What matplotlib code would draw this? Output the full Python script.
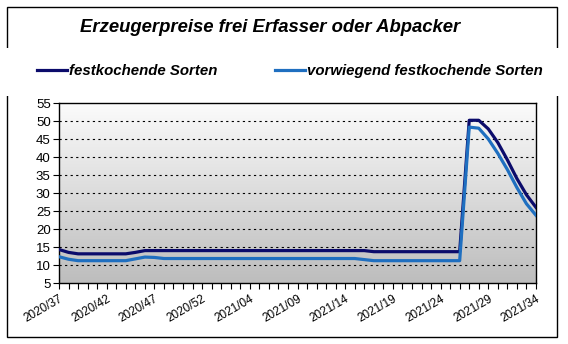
import numpy as np
import matplotlib
matplotlib.use("Agg")
import matplotlib.pyplot as plt
from matplotlib.patches import Rectangle

plt.rcParams['font.family'] = ['Liberation Sans', 'DejaVu Sans']

# Kalenderwochen 2020/37 .. 2021/34 (2020 hat 53 Wochen)
weeks = [f"2020/{w}" for w in range(37, 54)] + [f"2021/{w:02d}" for w in range(1, 35)]

festkochend = [14.3, 13.5, 13.1, 13.1, 13.1, 13.1, 13.1, 13.1, 13.5, 14.0,
               14.0, 14.0, 14.0, 14.0, 14.0, 14.0, 14.0, 14.0, 14.0, 14.0,
               14.0, 14.0, 14.0, 14.0, 14.0, 14.0, 14.0, 14.0, 14.0, 14.0,
               14.0, 14.0, 14.0, 13.7, 13.7, 13.7, 13.7, 13.7, 13.7, 13.7,
               13.7, 13.7, 13.7, 50.2, 50.2, 47.8, 44.0, 39.2, 34.0, 29.5,
               26.0]
vorwiegend = [12.3, 11.6, 11.2, 11.2, 11.2, 11.2, 11.2, 11.2, 11.7, 12.2,
              12.1, 11.8, 11.8, 11.8, 11.8, 11.8, 11.8, 11.8, 11.8, 11.8,
              11.8, 11.8, 11.8, 11.8, 11.8, 11.8, 11.8, 11.8, 11.8, 11.8,
              11.8, 11.8, 11.5, 11.2, 11.2, 11.2, 11.2, 11.2, 11.2, 11.2,
              11.2, 11.2, 11.2, 48.3, 48.0, 45.0, 41.0, 36.5, 31.5, 27.0,
              23.8]

W, H = 568, 344
fig = plt.figure(figsize=(W / 100, H / 100), dpi=100)
fig.patch.set_facecolor("white")

# aeusserer Rahmen
fig.patches.append(Rectangle((7 / W, 1 - 337 / H), 550 / W, 330 / H,
                             transform=fig.transFigure, fill=False,
                             edgecolor="black", linewidth=1.0, zorder=0))

ax = fig.add_axes([59 / W, 1 - 283 / H, 477 / W, 180 / H])

# Hintergrund mit Verlauf
grad = np.linspace(1, 0, 256).reshape(-1, 1)
ax.imshow(grad, extent=[0, 1, 0, 1], transform=ax.transAxes, aspect="auto",
          cmap=matplotlib.colors.LinearSegmentedColormap.from_list("g", ["#bdbdbd", "#fbfbfb"]),
          zorder=0)

x = np.arange(len(weeks))
l1, = ax.plot(x, festkochend, color="#0b0b6b", linewidth=2.3, zorder=3,
              label="festkochende Sorten")
l2, = ax.plot(x, vorwiegend, color="#1f6fc0", linewidth=2.3, zorder=4,
              label="vorwiegend festkochende Sorten")

ax.set_xlim(0, len(weeks) - 1)
ax.set_ylim(5, 55)
ax.set_yticks(range(5, 60, 5))
for v in range(10, 55, 5):
    ax.axhline(v, color="black", linestyle=(0, (2, 3)), linewidth=0.8, zorder=1)

ax.set_xticks(x)
ax.set_xticklabels([w if i % 5 == 0 else "" for i, w in enumerate(weeks)],
                   rotation=30, ha="right", rotation_mode="anchor", fontsize=8.5)
ax.tick_params(axis="x", length=4, width=0.8, pad=3)
ax.tick_params(axis="y", length=4, width=0.8, labelsize=9.5, pad=2)
for s in ax.spines.values():
    s.set_linewidth(1.0)
    s.set_color("black")

fig.text(270 / W, 1 - 28 / H, "Erzeugerpreise frei Erfasser oder Abpacker",
         ha="center", va="center", fontsize=13.3, fontweight="bold",
         fontstyle="italic")

# Legendenstreifen
fig.patches.append(Rectangle((0, 1 - 96 / H), 1, 48 / H,
                             transform=fig.transFigure, facecolor="white",
                             edgecolor="none", zorder=5))
leg = fig.legend(handles=[l1, l2], loc="center left",
                 bbox_to_anchor=(37 / W, 1 - 71 / H), ncol=2, frameon=False,
                 borderpad=0, borderaxespad=0, handlelength=2.0,
                 handletextpad=0.15, columnspacing=3.8,
                 prop={"size": 10.8, "weight": "bold", "style": "italic"})
leg.set_zorder(6)

fig.savefig("out.png", dpi=100)
